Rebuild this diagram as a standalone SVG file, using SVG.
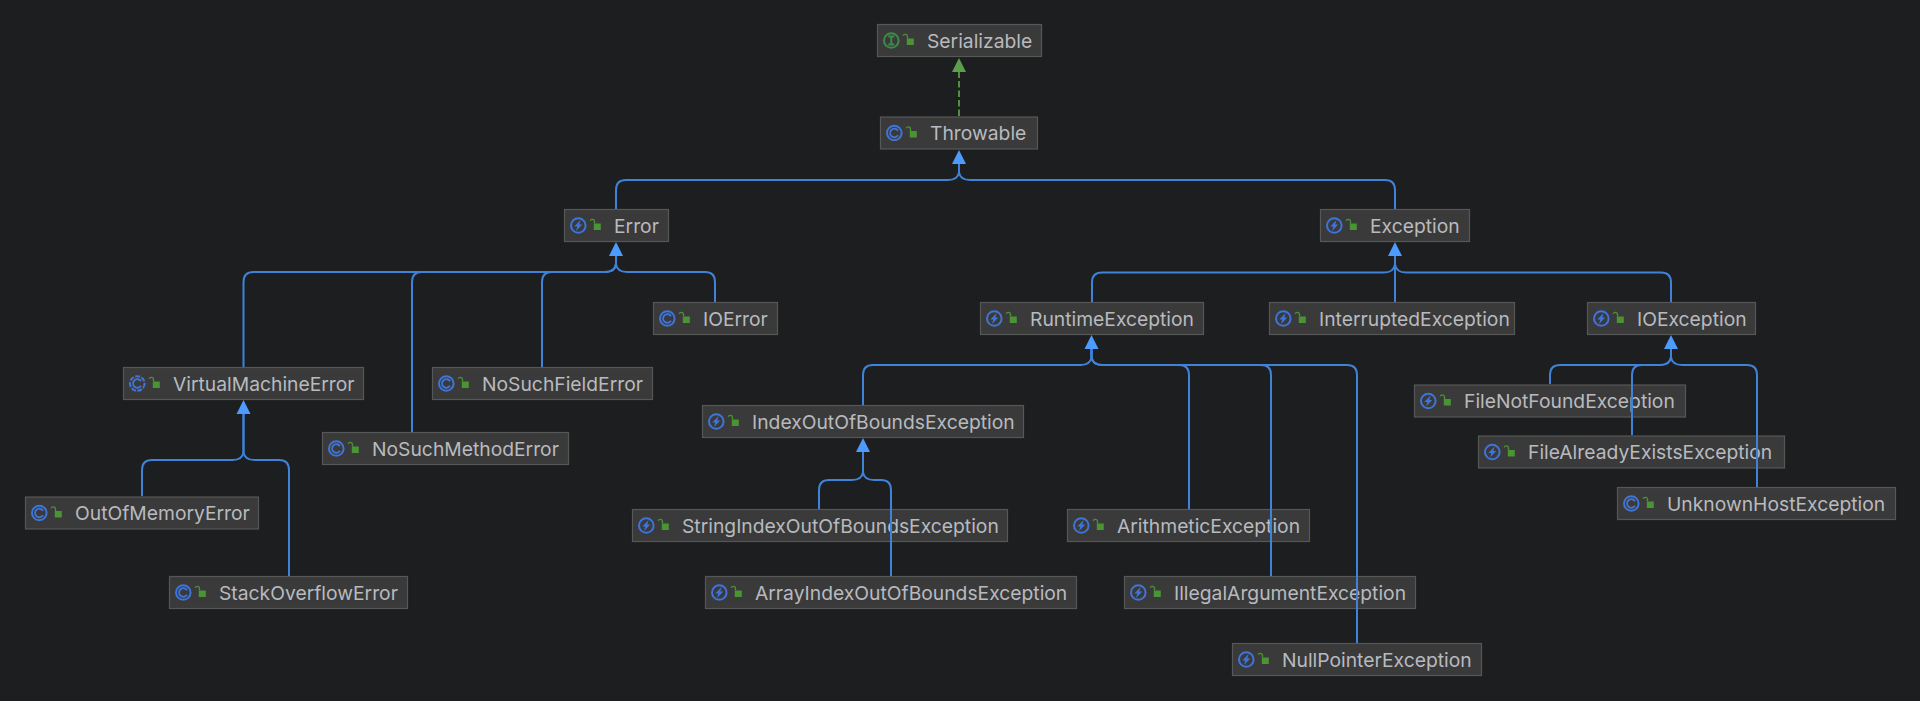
<svg xmlns="http://www.w3.org/2000/svg" width="1920" height="701" viewBox="0 0 1920 701">
<style>
.box{fill:#3a3a3b;stroke:#565757;stroke-width:1.2}
.lbl{font-family:Inter,"Liberation Sans",sans-serif;font-size:19.3px;fill:#b8babf}
.edge{fill:none;stroke:#3f82d8;stroke-width:2}
.head{fill:#4d9bff}
.real{fill:none;stroke:#4f8f3f;stroke-width:2;stroke-dasharray:6.500 3}
.ghead{fill:#5c9e49}
.ring{fill:none;stroke:#3f74d8;stroke-width:2}
.ringg{fill:none;stroke:#3f8a4a;stroke-width:2}
.glyph{fill:none;stroke:#3f74d8;stroke-width:1.8}
.bolt{fill:#3f74d8}
.lockb{fill:#4a9433}
.locks{fill:none;stroke:#4a9433;stroke-width:1.300}
</style>
<defs>
<g id="lock"><rect class="lockb" x="29.800" y="-2" width="7" height="6.500"/><path class="locks" d="M30.500-2V-4a2.200 2.200 0 0 0-4.300-.6"/></g>
<g id="ic-c"><circle class="ring" cx="14.300" cy="0" r="7.300"/><path class="glyph" d="M18-2.300a4.300 4.300 0 1 0 0 4.600"/><use href="#lock"/></g>
<g id="ic-a"><circle class="ring" cx="14.300" cy="0" r="7.300" stroke-dasharray="5 1.400"/><path class="glyph" d="M18-2.300a4.300 4.300 0 1 0 0 4.600"/><use href="#lock"/></g>
<g id="ic-e"><circle class="ring" cx="14.300" cy="0" r="7.300"/><path class="bolt" d="M16.600-5.600L10.300 1H13.300L12 5.600 18.300-1H15.300Z"/><use href="#lock"/></g>
<g id="ic-i"><circle class="ringg" cx="14.300" cy="0" r="7.300"/><path class="ringg" d="M11.300-4H17.300M11.300 4H17.300M14.300-4V4"/><use href="#lock"/></g>
</defs>
<rect width="1920" height="701" fill="#1d1e20"/>
<g id="nodes">
<g id="Serializable" transform="translate(877 40.500)"><rect class="box" x="0.500" y="-16" width="164" height="32"/><use href="#ic-i"/><text class="lbl" x="50" y="7.300">Serializable</text></g>
<g id="Throwable" transform="translate(880 133)"><rect class="box" x="0.500" y="-16" width="157" height="32"/><use href="#ic-c"/><text class="lbl" x="50" y="7.300">Throwable</text></g>
<g id="Error" transform="translate(564 225.500)"><rect class="box" x="0.500" y="-16" width="104" height="32"/><use href="#ic-e"/><text class="lbl" x="50" y="7.300">Error</text></g>
<g id="Exception" transform="translate(1320 225.500)"><rect class="box" x="0.500" y="-16" width="149" height="32"/><use href="#ic-e"/><text class="lbl" x="50" y="7.300">Exception</text></g>
<g id="VirtualMachineError" transform="translate(123 383.500)"><rect class="box" x="0.500" y="-16" width="240" height="32"/><use href="#ic-a"/><text class="lbl" x="50" y="7.300">VirtualMachineError</text></g>
<g id="NoSuchMethodError" transform="translate(322 448.500)"><rect class="box" x="0.500" y="-16" width="246" height="32"/><use href="#ic-c"/><text class="lbl" x="50" y="7.300">NoSuchMethodError</text></g>
<g id="NoSuchFieldError" transform="translate(432 383.500)"><rect class="box" x="0.500" y="-16" width="220" height="32"/><use href="#ic-c"/><text class="lbl" x="50" y="7.300">NoSuchFieldError</text></g>
<g id="IOError" transform="translate(653 318.500)"><rect class="box" x="0.500" y="-16" width="124" height="32"/><use href="#ic-c"/><text class="lbl" x="50" y="7.300">IOError</text></g>
<g id="OutOfMemoryError" transform="translate(25 513)"><rect class="box" x="0.500" y="-16" width="233" height="32"/><use href="#ic-c"/><text class="lbl" x="50" y="7.300">OutOfMemoryError</text></g>
<g id="StackOverflowError" transform="translate(169 592.500)"><rect class="box" x="0.500" y="-16" width="238" height="32"/><use href="#ic-c"/><text class="lbl" x="50" y="7.300">StackOverflowError</text></g>
<g id="RuntimeException" transform="translate(980 318.500)"><rect class="box" x="0.500" y="-16" width="223" height="32"/><use href="#ic-e"/><text class="lbl" x="50" y="7.300">RuntimeException</text></g>
<g id="InterruptedException" transform="translate(1269 318.500)"><rect class="box" x="0.500" y="-16" width="245" height="32"/><use href="#ic-e"/><text class="lbl" x="50" y="7.300">InterruptedException</text></g>
<g id="IOException" transform="translate(1587 318.500)"><rect class="box" x="0.500" y="-16" width="168" height="32"/><use href="#ic-e"/><text class="lbl" x="50" y="7.300">IOException</text></g>
<g id="IndexOutOfBoundsException" transform="translate(702 421.500)"><rect class="box" x="0.500" y="-16" width="321" height="32"/><use href="#ic-e"/><text class="lbl" x="50" y="7.300">IndexOutOfBoundsException</text></g>
<g id="StringIndexOutOfBoundsException" transform="translate(632 525.500)"><rect class="box" x="0.500" y="-16" width="375" height="32"/><use href="#ic-e"/><text class="lbl" x="50" y="7.300">StringIndexOutOfBoundsException</text></g>
<g id="ArrayIndexOutOfBoundsException" transform="translate(705 592.500)"><rect class="box" x="0.500" y="-16" width="371" height="32"/><use href="#ic-e"/><text class="lbl" x="50" y="7.300">ArrayIndexOutOfBoundsException</text></g>
<g id="ArithmeticException" transform="translate(1067 525.500)"><rect class="box" x="0.500" y="-16" width="242" height="32"/><use href="#ic-e"/><text class="lbl" x="50" y="7.300">ArithmeticException</text></g>
<g id="IllegalArgumentException" transform="translate(1124 592.500)"><rect class="box" x="0.500" y="-16" width="291" height="32"/><use href="#ic-e"/><text class="lbl" x="50" y="7.300">IllegalArgumentException</text></g>
<g id="NullPointerException" transform="translate(1232 659.500)"><rect class="box" x="0.500" y="-16" width="249" height="32"/><use href="#ic-e"/><text class="lbl" x="50" y="7.300">NullPointerException</text></g>
<g id="FileNotFoundException" transform="translate(1414 401)"><rect class="box" x="0.500" y="-16" width="271" height="32"/><use href="#ic-e"/><text class="lbl" x="50" y="7.300">FileNotFoundException</text></g>
<g id="FileAlreadyExistsException" transform="translate(1478 452)"><rect class="box" x="0.500" y="-16" width="306" height="32"/><use href="#ic-e"/><text class="lbl" x="50" y="7.300">FileAlreadyExistsException</text></g>
<g id="UnknownHostException" transform="translate(1617 503.500)"><rect class="box" x="0.500" y="-16" width="278" height="32"/><use href="#ic-c"/><text class="lbl" x="50" y="7.300">UnknownHostException</text></g>
</g>
<g id="connectors">
<path class="real" d="M959 116V70"/>
<path class="ghead" d="M959 58L966 72H952Z"/>
<path class="edge" d="M959 163V172Q958 180 948 180H626Q616 180 616 190V209"/>
<path class="edge" d="M959 163V172Q960 180 970 180H1385Q1395 180 1395 190V209"/>
<path class="head" d="M959 150L966 164H952Z"/>
<path class="edge" d="M616 256V264Q615 272 605 272H253.500Q243.500 272 243.500 282V367"/>
<path class="edge" d="M616 256V264Q615 272 605 272H422Q412 272 412 282V432"/>
<path class="edge" d="M616 256V264Q615 272 605 272H552Q542 272 542 282V367"/>
<path class="edge" d="M616 256V264Q617 272 627 272H705Q715 272 715 282V302"/>
<path class="head" d="M616 242L623 256H609Z"/>
<path class="edge" d="M243.500 413V452Q242.500 460 232.500 460H152Q142 460 142 470V496"/>
<path class="edge" d="M243.500 413V452Q244.500 460 254.500 460H279Q289 460 289 470V576"/>
<path class="head" d="M243.500 400L250.500 414H236.500Z"/>
<path class="edge" d="M1395 256V264Q1394 272.500 1384 272.500H1102Q1092 272.500 1092 282.500V302"/>
<path class="edge" d="M1395 256V302"/>
<path class="edge" d="M1395 256V264Q1396 272.500 1406 272.500H1661Q1671 272.500 1671 282.500V302"/>
<path class="head" d="M1395 242L1402 256H1388Z"/>
<path class="edge" d="M1091.500 349V357Q1090.500 365 1080.500 365H873Q863 365 863 375V405"/>
<path class="edge" d="M1091.500 349V357Q1092.500 365 1102.500 365H1179Q1189 365 1189 375V509"/>
<path class="edge" d="M1091.500 349V357Q1092.500 365 1102.500 365H1261Q1271 365 1271 375V576"/>
<path class="edge" d="M1091.500 349V357Q1092.500 365 1102.500 365H1347Q1357 365 1357 375V643"/>
<path class="head" d="M1091.500 335L1098.500 349H1084.500Z"/>
<path class="edge" d="M863 451V472Q862 480 852 480H829Q819 480 819 490V509"/>
<path class="edge" d="M863 451V472Q864 480 874 480H881Q891 480 891 490V576"/>
<path class="head" d="M863 438L870 452H856Z"/>
<path class="edge" d="M1671 349V357Q1670 365 1660 365H1560Q1550 365 1550 375V384"/>
<path class="edge" d="M1671 349V357Q1670 365 1660 365H1642Q1632 365 1632 375V435"/>
<path class="edge" d="M1671 349V357Q1672 365 1682 365H1747Q1757 365 1757 375V487"/>
<path class="head" d="M1671 335L1678 349H1664Z"/>
</g>
</svg>
